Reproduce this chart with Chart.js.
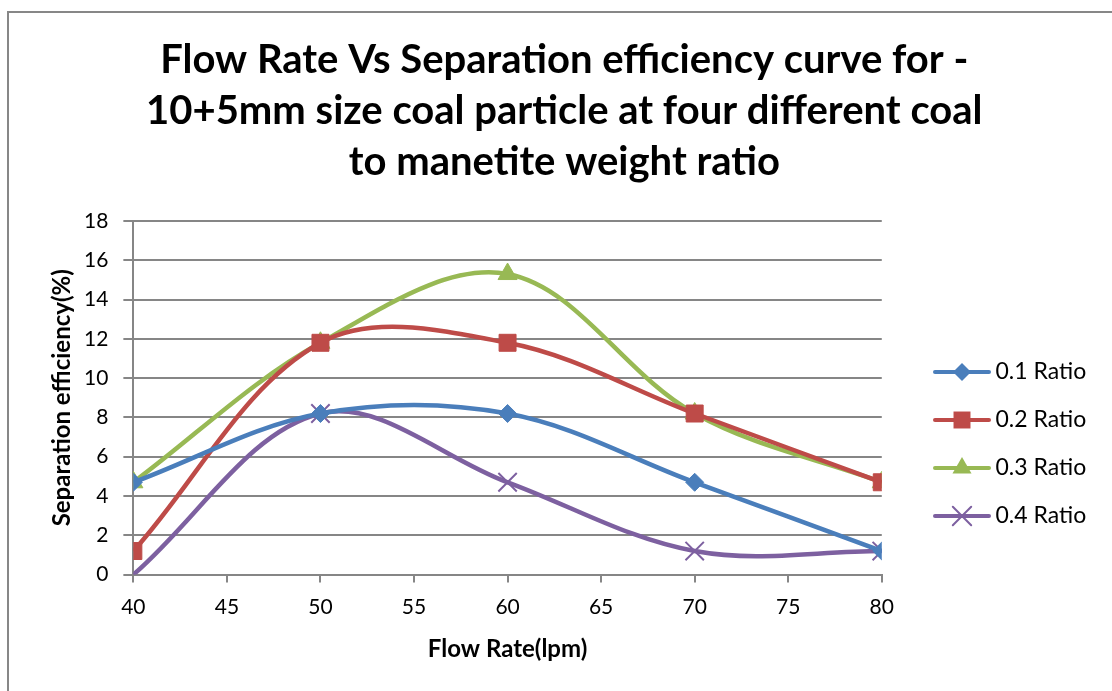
<!DOCTYPE html>
<html>
<head>
<meta charset="utf-8">
<script src="https://cdn.jsdelivr.net/npm/chart.js@4/dist/chart.umd.min.js"></script>
<style>
  html, body { margin: 0; padding: 0; background: #fff; }
  #wrap { width: 1112px; height: 691px; position: relative; }
</style>
</head>
<body>
<div id="wrap"><canvas id="c"></canvas></div>
<script>
// values
const flowRate = [40, 50, 60, 70, 80];
const ratio01 = [4.7, 8.2, 8.2, 4.7, 1.2];
const ratio02 = [1.2, 11.8, 11.8, 8.2, 4.7];
const ratio03 = [4.7, 11.8, 15.3, 8.2, 4.7];
const ratio04 = [0, 8.2, 4.7, 1.2, 1.2];
const seriesNames = ["0.1 Ratio", "0.2 Ratio", "0.3 Ratio", "0.4 Ratio"];
const titleLines = [
  "Flow Rate Vs Separation efficiency curve for -",
  "10+5mm size coal particle at four different coal",
  "to manetite weight ratio",
];

const FONT = "Lato, 'Open Sans', sans-serif";
const colors = ["#4A7EBB", "#BE4B48", "#98B954", "#7D60A0"];
const markers = ["rectRot", "rect", "triangle", "crossRot"];
const markerSizes = [9, 12, 11, 13];

// legend symbol: line with marker in the middle
function legendIcon(color, style, r) {
  const cv = document.createElement("canvas");
  cv.width = 58;
  cv.height = 26;
  const g = cv.getContext("2d");
  g.strokeStyle = color;
  g.fillStyle = color;
  g.lineWidth = 4;
  g.lineCap = "round";
  g.beginPath();
  g.moveTo(2, 13);
  g.lineTo(56, 13);
  g.stroke();
  const x = 29, y = 13;
  g.beginPath();
  if (style === "rectRot") {
    g.moveTo(x, y - r); g.lineTo(x + r, y); g.lineTo(x, y + r); g.lineTo(x - r, y); g.closePath(); g.fill();
  } else if (style === "rect") {
    const s = r * Math.SQRT1_2;
    g.rect(x - s, y - s, 2 * s, 2 * s); g.fill();
  } else if (style === "triangle") {
    g.moveTo(x, y - r);
    g.lineTo(x + r * Math.sin(2 * Math.PI / 3), y - r * Math.cos(2 * Math.PI / 3));
    g.lineTo(x - r * Math.sin(2 * Math.PI / 3), y - r * Math.cos(2 * Math.PI / 3));
    g.closePath(); g.fill();
  } else {
    const o = r * Math.SQRT1_2;
    g.lineWidth = 2;
    g.moveTo(x - o, y - o); g.lineTo(x + o, y + o);
    g.moveTo(x + o, y - o); g.lineTo(x - o, y + o);
    g.stroke();
  }
  return cv;
}

const allSeries = [ratio01, ratio02, ratio03, ratio04];
const datasets = allSeries.map((vals, i) => ({
  label: seriesNames[i],
  data: vals.map((v, k) => ({ x: flowRate[k], y: v })),
  borderColor: colors[i],
  backgroundColor: colors[i],
  borderWidth: 4.5,
  tension: 0.35,
  pointStyle: markers[i],
  pointRadius: markerSizes[i],
  pointBorderWidth: i === 3 ? 2 : 1,
  pointBorderColor: colors[i],
  pointBackgroundColor: colors[i],
  legendIcon: legendIcon(colors[i], markers[i], markerSizes[i]),
}));

// outer frame of the chart object, and legend/title moved to where Excel put them
const framePlugin = {
  id: "frame",
  afterLayout(chart) {
    const lg = chart.legend;
    const w = lg.right - lg.left;
    const h = lg.bottom - lg.top;
    lg.left = 915;
    lg.right = 915 + w;
    lg.top = 335.5;
    lg.bottom = 335.5 + h;
    const tb = chart.titleBlock;
    tb.left += 9;
    tb.right += 9;
  },
  afterDraw(chart) {
    const ctx = chart.ctx;
    ctx.save();
    ctx.strokeStyle = "#878787";
    ctx.lineWidth = 2;
    ctx.strokeRect(8, 12, 1120, 700);
    ctx.restore();
  },
};

new Chart(document.getElementById("c"), {
  type: "line",
  data: { datasets },
  plugins: [framePlugin],
  options: {
    responsive: true,
    maintainAspectRatio: false,
    animation: false,
    layout: { padding: { top: 12, left: 47.6, right: 49, bottom: 27 } },
    plugins: {
      title: {
        display: true,
        text: titleLines,
        color: "#000",
        font: { family: FONT, size: 40, weight: "bold", lineHeight: 1.275 },
        padding: { top: 22.5, bottom: 33.5 },
      },
      legend: {
        position: "right",
        align: "start",
        labels: {
          color: "#000",
          font: { family: FONT, size: 23 },
          usePointStyle: true,
          pointStyleWidth: 44,
          padding: 25,
          generateLabels(chart) {
            return chart.data.datasets.map((ds, i) => ({
              text: ds.label,
              pointStyle: ds.legendIcon,
              fillStyle: ds.backgroundColor,
              strokeStyle: ds.borderColor,
              lineWidth: 0,
              hidden: false,
              datasetIndex: i,
            }));
          },
        },
      },
      tooltip: { enabled: false },
    },
    scales: {
      x: {
        type: "linear",
        min: 40,
        max: 80,
        ticks: { stepSize: 5, color: "#000", font: { family: FONT, size: 21 }, padding: 12 },
        grid: { drawOnChartArea: false, drawTicks: true, tickLength: 8, color: "#868686", lineWidth: 2 },
        border: { display: true, color: "#868686", width: 2 },
        title: {
          display: true,
          text: "Flow Rate(lpm)",
          color: "#000",
          font: { family: FONT, size: 24, weight: "bold" },
          padding: { top: 3.4, bottom: 0 },
        },
      },
      y: {
        min: 0,
        max: 18,
        ticks: { stepSize: 2, color: "#000", font: { family: FONT, size: 21 }, padding: 15 },
        grid: { color: "#868686", lineWidth: 2, tickLength: 10 },
        border: { display: true, color: "#868686", width: 2 },
        title: {
          display: true,
          text: "Separation efficiency(%)",
          color: "#000",
          font: { family: FONT, size: 24, weight: "bold" },
          padding: { top: 0, bottom: -7.4 },
        },
      },
    },
  },
});
</script>
</body>
</html>
